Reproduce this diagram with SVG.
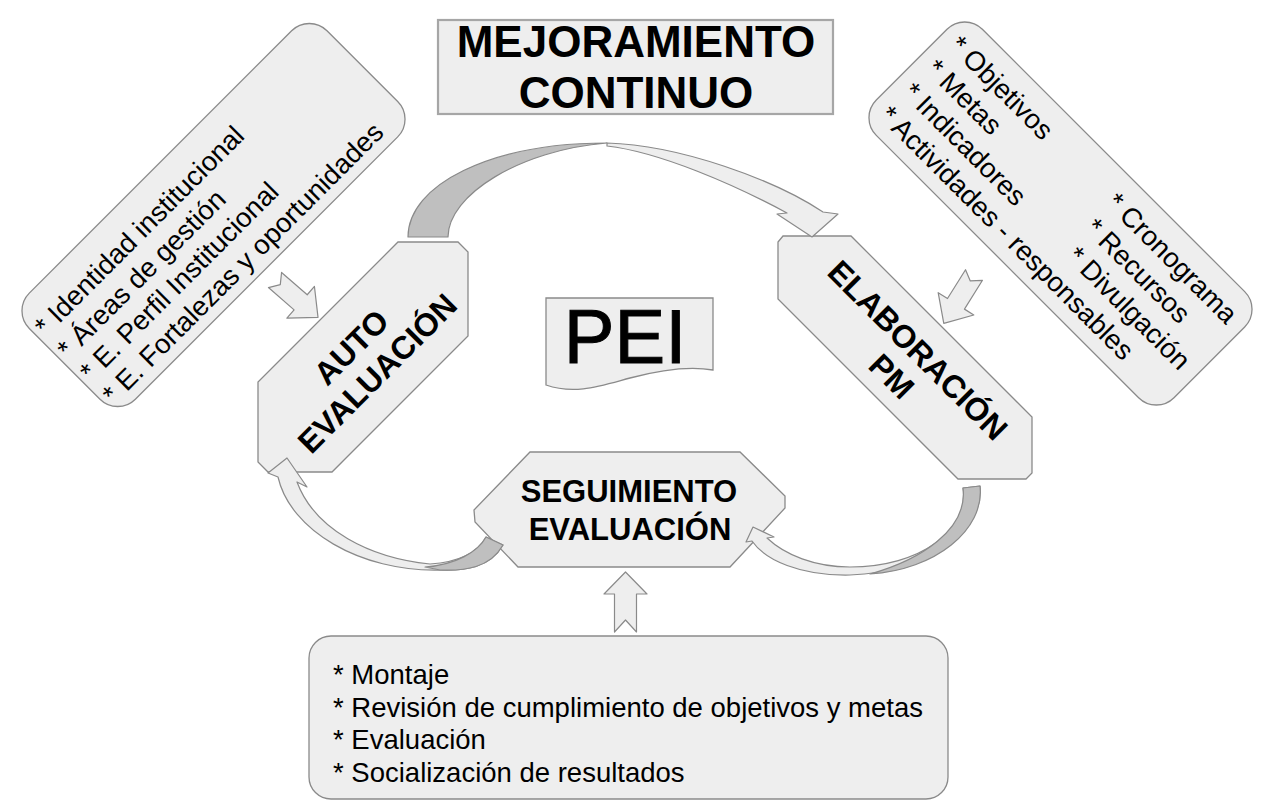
<svg xmlns="http://www.w3.org/2000/svg" width="1265" height="801" viewBox="0 0 1265 801">
<style>
.node{fill:#eeeeee;stroke:#8a8a8a;stroke-width:1.3}
.title{fill:#eeeeee;stroke:#a6a6a6;stroke-width:2.2}
.conn{fill:#eeeeee;stroke:#8a8a8a;stroke-width:1.2;stroke-linejoin:round}
.dark{fill:#bfbfbf;stroke:#8a8a8a;stroke-width:1.2;stroke-linejoin:round}
.t{font-family:"Liberation Sans",Arial,sans-serif;fill:#000}
.list{font-size:27.5px}
.lbl{font-size:32px;font-weight:bold;text-anchor:middle}
</style>
<defs>
<path id="notch" d="M0,-10 L34,-10 L34,-21 L57,0 L34,21 L34,10 L0,10 L7,0 Z"/>
</defs>
<rect width="1265" height="801" fill="#ffffff"/>

<g id="titulo">
<rect class="title" x="438" y="20" width="395" height="94"/>
<text class="t" x="636" y="57" font-size="44" font-weight="bold" text-anchor="middle">MEJORAMIENTO</text>
<text class="t" x="636" y="108" font-size="44" font-weight="bold" text-anchor="middle">CONTINUO</text>
</g>

<g id="lista-autoevaluacion" transform="translate(213.5,215) rotate(-45)">
<rect class="node" x="-210.5" y="-75" width="421" height="150" rx="25"/>
<text class="t list" x="-205" y="-32">* Identidad institucional</text>
<text class="t list" x="-205" y="0">* Áreas de gestión</text>
<text class="t list" x="-205" y="32">* E. Perfil Institucional</text>
<text class="t list" x="-205" y="64">* E. Fortalezas y oportunidades</text>
</g>

<g id="lista-elaboracion" transform="translate(1060.5,213.5) rotate(45)">
<rect class="node" x="-210.5" y="-75" width="421" height="150" rx="25"/>
<text class="t list" x="-197" y="-38">* Objetivos</text>
<text class="t list" x="-197" y="-5">* Metas</text>
<text class="t list" x="-197" y="28">* Indicadores</text>
<text class="t list" x="-197" y="61">* Actividades - responsables</text>
<text class="t list" x="25" y="-38">* Cronograma</text>
<text class="t list" x="28" y="-5">* Recursos</text>
<text class="t list" x="35" y="28">* Divulgación</text>
</g>

<g id="autoevaluacion">
<path class="node" d="M398,242 L458,242 L468,252 L468,336 L332,472 L268,472 L258,462 L258,382 Z"/>
<g transform="translate(364,360) rotate(-45)">
<text class="t lbl" x="0" y="-7">AUTO</text>
<text class="t lbl" x="0" y="30">EVALUACIÓN</text>
</g>
</g>

<g id="elaboracion">
<path class="node" d="M783,236 L851,236 L1032,417 L1032,473 L1026,479 L958,479 L778,299 L778,242 Z"/>
<g transform="translate(905,363) rotate(45)">
<text class="t lbl" x="0" y="-7">ELABORACIÓN</text>
<text class="t lbl" x="0" y="30">PM</text>
</g>
</g>

<g id="pei">
<path class="node" d="M546,298 L713,298 L713,370 C 690,366 660,370 630,378 C 600,386 575,395 546,385 Z"/>
<text class="t" x="625" y="363" font-size="76" text-anchor="middle" stroke="#000" stroke-width="1">PEI</text>
</g>

<g id="seguimiento">
<path class="node" d="M530,452 L740,452 L785,496 L785,508 L730,567 L518,567 L475,522 L474,510 Z"/>
<text class="t" x="629" y="502" font-size="31" font-weight="bold" text-anchor="middle">SEGUIMIENTO</text>
<text class="t" x="630" y="540" font-size="31" font-weight="bold" text-anchor="middle">EVALUACIÓN</text>
</g>

<g id="lista-seguimiento">
<rect class="node" x="309" y="636" width="639" height="163" rx="22"/>
<text class="t list" x="333" y="684">* Montaje</text>
<text class="t list" x="333" y="716.5">* Revisión de cumplimiento de objetivos y metas</text>
<text class="t list" x="333" y="749">* Evaluación</text>
<text class="t list" x="333" y="781.5">* Socialización de resultados</text>
</g>

<g id="conectores">
<path class="dark" d="M408,237 C 408,185 490,143 607,143 C 520,150 448,195 448,237 Z"/>
<path class="conn" d="M607,143 C 680,145 775,180 823,212 L838,214 L812,237 L777,214 L787,213 C 735,185 660,152 607,146 Z"/>

<path class="conn" d="M980,486 C 985,530 930,572 850,575 C 800,576 765,560 752,541 L746,542 L753,527 L774,537 L767,538 C 785,555 815,567 850,567 C 920,567 970,530 963,488 Z"/>
<path class="dark" d="M980,486 C 985,530 935,570 870,574 C 920,560 968,530 963,488 Z"/>

<path class="conn" d="M503,545 C 490,568 465,571 440,570 C 360,572 290,530 278,477 L268,473 L287,458 L307,487 L297,482 C 315,530 370,558 430,564 C 460,562 478,552 486,537 Z"/>
<path class="dark" d="M503,545 C 490,568 465,571 440,570 L425,567 C 455,565 478,552 486,537 Z"/>

<use href="#notch" class="conn" transform="translate(275,280) rotate(41)"/>
<use href="#notch" class="conn" transform="translate(974,275) rotate(122)"/>
<path class="conn" transform="translate(625.5,632) rotate(-90)" d="M0,-11 L38,-11 L38,-21.5 L60,0 L38,21.5 L38,11 L0,11 L12,0 Z"/>
</g>
</svg>
